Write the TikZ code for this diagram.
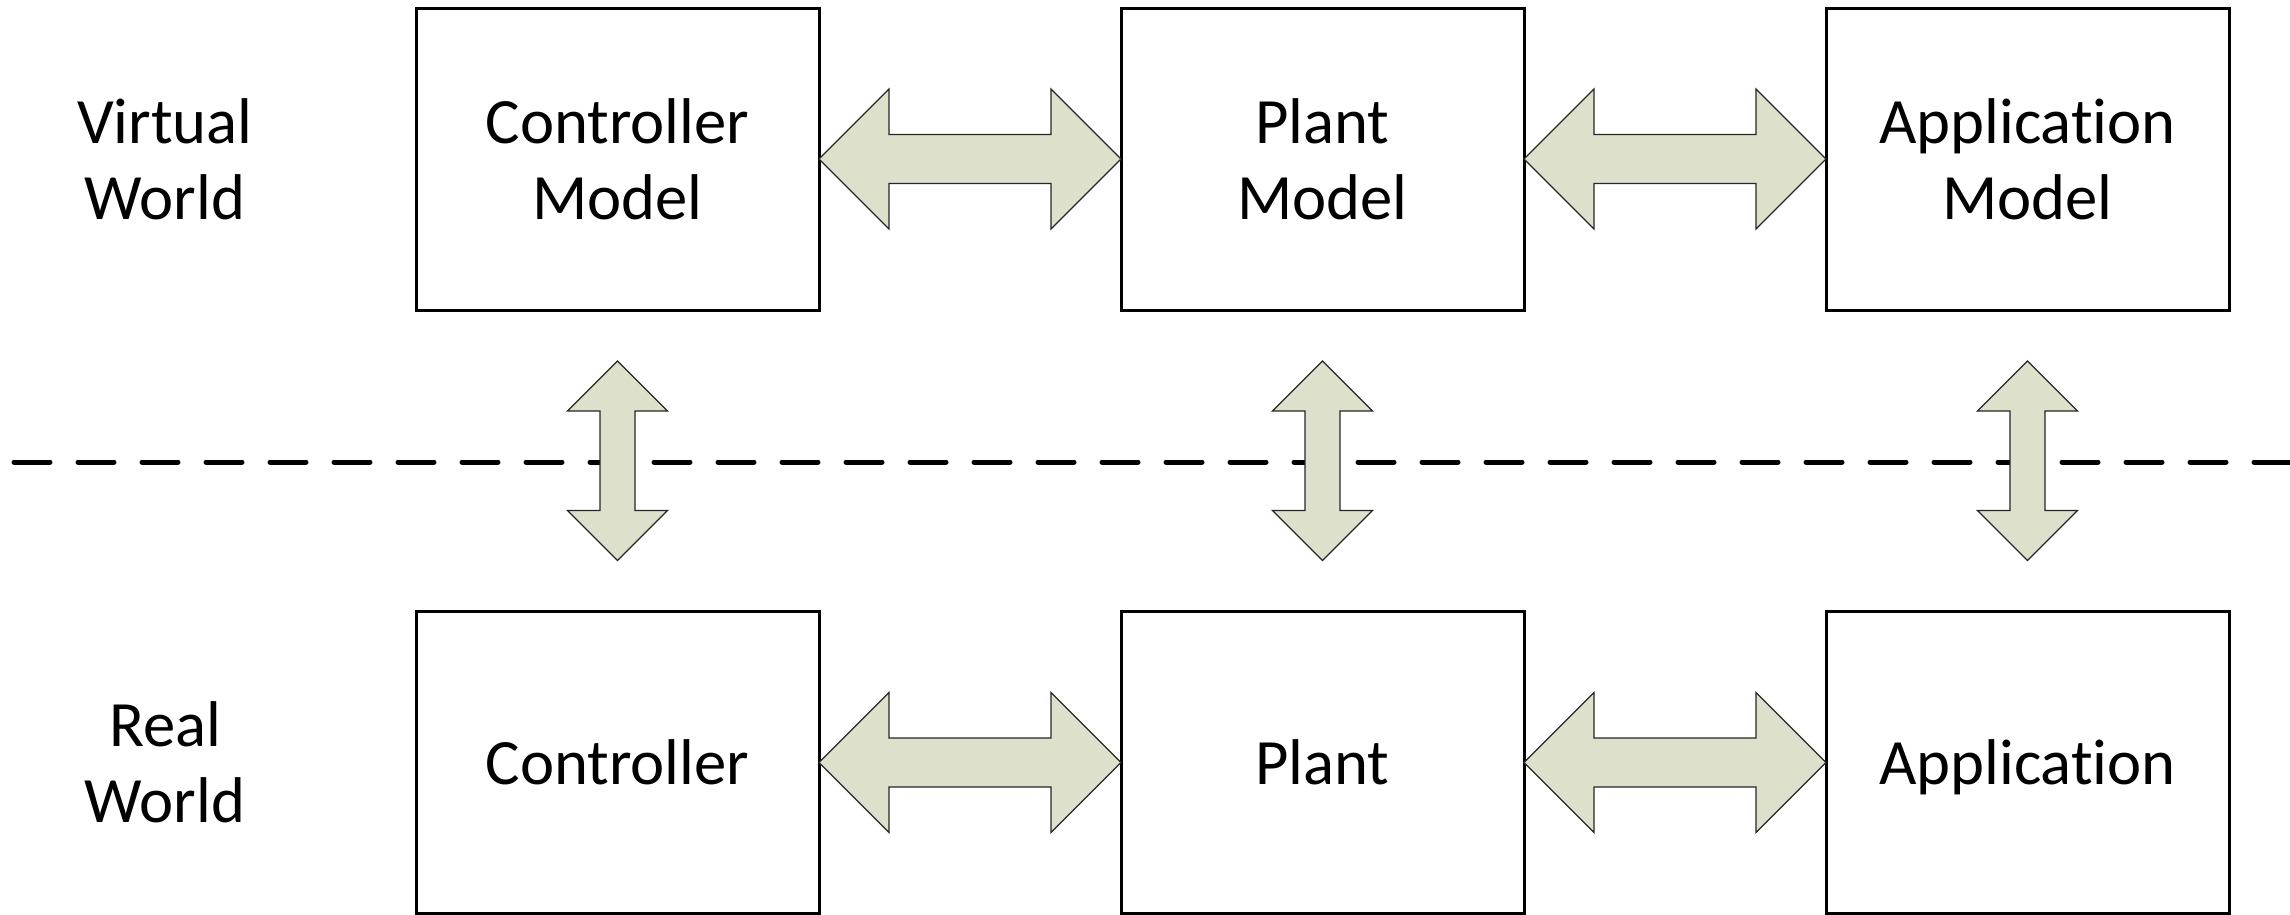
\documentclass[tikz,border=0pt]{standalone}
\usepackage{fontspec}
\setmainfont[Ligatures={NoCommon,NoRequired,NoContextual}]{Carlito}
\usetikzlibrary{calc}
\definecolor{arrowfill}{RGB}{221,225,203}
\tikzset{
  box/.style={draw=black, line width=0.3mm, minimum width=40.3mm, minimum height=30.2mm,
    inner sep=0pt, outer sep=0pt, align=center, font=\fontsize{18.4}{21.6}\selectfont},
  worldlabel/.style={align=center, inner sep=0pt, font=\fontsize{18.4}{21.6}\selectfont},
  fatarrow/.style={fill=arrowfill, draw=black!85, line width=0.35pt, line join=miter},
  divider/.style={draw=black, line width=0.5mm, line cap=round, dash pattern=on 3.6mm off 2.8mm}
}
% block arrow between two boxes side by side
\newcommand\linkH[2]{%
  \path[fatarrow] let \p1=(#1.east), \p2=(#2.west) in
    (\x1,\y1) -- ({\x1+7mm},{\y1+7mm}) -- ({\x1+7mm},{\y1+2.45mm})
    -- ({\x2-7mm},{\y1+2.45mm}) -- ({\x2-7mm},{\y1+7mm}) -- (\x2,\y1)
    -- ({\x2-7mm},{\y1-7mm}) -- ({\x2-7mm},{\y1-2.45mm})
    -- ({\x1+7mm},{\y1-2.45mm}) -- ({\x1+7mm},{\y1-7mm}) -- cycle;}
% block arrow between a box and the one below it
\newcommand\linkV[2]{%
  \path[fatarrow] let \p1=(#1.south), \p2=(#2.north) in
    (\x1,{\y1-5.1mm}) -- ({\x1+5mm},{\y1-10.1mm}) -- ({\x1+1.75mm},{\y1-10.1mm})
    -- ({\x1+1.75mm},{\y2+10.1mm}) -- ({\x1+5mm},{\y2+10.1mm}) -- (\x1,{\y2+5.1mm})
    -- ({\x1-5mm},{\y2+10.1mm}) -- ({\x1-1.75mm},{\y2+10.1mm})
    -- ({\x1-1.75mm},{\y1-10.1mm}) -- ({\x1-5mm},{\y1-10.1mm}) -- cycle;}
\begin{document}
\begin{tikzpicture}[x=0.1mm, y=-0.1mm]
  \useasboundingbox (0,0) rectangle (2290,914);

  % world labels
  \node[worldlabel] (vw) at (165,159) {Virtual\\World};
  \node[worldlabel] (rw) at (165,762) {Real\\World};

  % virtual world
  \node[box] (cm) at (617.5,159) {Controller\\Model};
  \node[box] (pm) at (1322.5,159) {Plant\\Model};
  \node[box] (am) at (2027.5,159) {Application\\Model};

  % real world
  \node[box, text depth=0pt] (c) at (617.5,762.5) {Controller};
  \node[box, text depth=0pt] (p) at (1322.5,762.5) {Plant};
  \node[box, text depth=0pt] (a) at (2027.5,762.5) {Application};

  % boundary between the two worlds
  \coordinate (divL) at (14,462);
  \coordinate (divR) at (2300,462);
  \draw[divider] (divL) -- (divR);

  \linkH{cm}{pm}
  \linkH{pm}{am}
  \linkH{c}{p}
  \linkH{p}{a}
  \linkV{cm}{c}
  \linkV{pm}{p}
  \linkV{am}{a}
\end{tikzpicture}
\end{document}
